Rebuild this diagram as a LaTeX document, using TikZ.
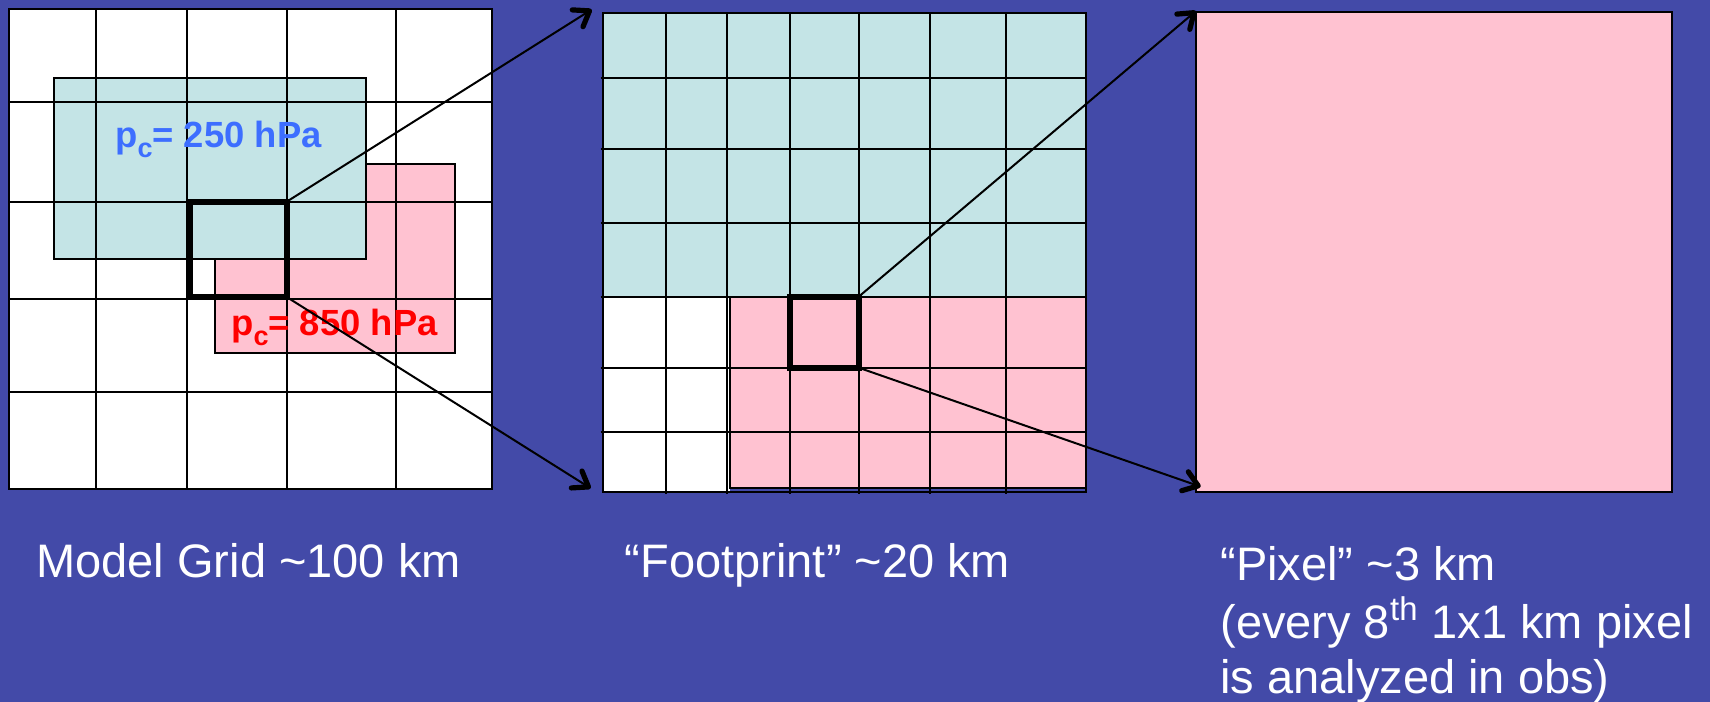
\documentclass[tikz,border=0pt]{standalone}
\usepackage{fontspec}
\setmainfont{Liberation Sans}
\usetikzlibrary{arrows.meta}
\definecolor{bgblue}{RGB}{67,74,168}
\definecolor{cyanfill}{RGB}{196,228,230}
\definecolor{pinkfill}{RGB}{255,194,209}
\definecolor{pcblue}{RGB}{61,110,255}
\definecolor{pcred}{RGB}{255,0,0}
\newcommand\pcsub{\raisebox{-0.28em}{\fontsize{13.5pt}{15pt}\selectfont c}}
\begin{document}
\begin{tikzpicture}[x=0.5pt,y=-0.5pt,
  gridline/.style={draw=black,line width=1pt},
  cyanbox/.style={fill=cyanfill,draw=black,line width=1pt},
  pinkbox/.style={fill=pinkfill,draw=black,line width=1pt},
  boldsq/.style={draw=black,line width=3pt,inner sep=0pt,outer sep=0pt},
  zoomarrow/.style={draw=black,line width=1pt,-{Straight Barb[length=7pt,width=10pt,line width=2.6pt,round]}},
  bigtext/.style={font=\fontsize{23.5pt}{28.2pt}\selectfont,text=white,inner sep=0pt,anchor=base west},
  pclabel/.style={font=\fontsize{18.2pt}{22pt}\selectfont\bfseries,inner sep=0pt,anchor=base west}]
\useasboundingbox (0,0) rectangle (1710,702);
\fill[bgblue] (0,0) rectangle (1710,702);

% ---------- Model grid ----------
\fill[white] (9.3,9.3) rectangle (492,489);
\draw[pinkbox] (215.3,164) rectangle (455.3,353.3);
\draw[cyanbox] (54.3,78) rectangle (365.7,258.7);
\foreach \x in {96.3,186.7,286.7,396.3}
  \draw[gridline] (\x,9.3) -- (\x,489);
\foreach \y in {101.7,201.7,299.3,392.3}
  \draw[gridline] (9.3,\y) -- (492,\y);
\draw[gridline] (9.3,9.3) rectangle (492,489);
\node[pclabel,text=pcblue] (lab250) at (115,147) {p\pcsub= 250 hPa};
\node[pclabel,text=pcred] (lab850) at (231,335) {p\pcsub= 850 hPa};
\node[boldsq,minimum width=48.35pt,minimum height=47.65pt] (sq1) at (238.35,249.35) {};

% ---------- Footprint ----------
\fill[cyanfill] (602.7,12.7) rectangle (1086,296.7);
\fill[white] (602.7,296.7) rectangle (730,491.7);
\draw[pinkbox] (730,296.7) rectangle (1086,488.3);
\foreach \x in {666,726.7,790,858.7,929.7,1006}
  \draw[gridline] (\x,12.7) -- (\x,494);
\foreach \y in {78,149,222.7,296.7,367.7,431.7}
  \draw[gridline] (600.7,\y) -- (1086,\y);
\draw[gridline] (602.7,12.7) rectangle (1086,491.7);
\node[boldsq,minimum width=34.35pt,minimum height=35.5pt] (sq2) at (824.35,332.2) {};

% ---------- Pixel ----------
\node[pinkbox,inner sep=0pt,outer sep=0pt,minimum width=238.15pt,minimum height=239.85pt] (pix) at (1433.85,251.85) {};

% ---------- Arrows ----------
\coordinate (fpin1) at (591.7,9.5);
\coordinate (fpin2) at (590.7,488.3);
\coordinate (pxin1) at (1196,11);
\coordinate (pxin2) at (1200.7,486.7);
\draw[zoomarrow] (sq1.north east) -- (fpin1);
\draw[zoomarrow] (sq1.south east) -- (fpin2);
\draw[zoomarrow] (sq2.north east) -- (pxin1);
\draw[zoomarrow] (sq2.south east) -- (pxin2);

% ---------- Captions ----------
\node[bigtext] (capmodel) at (36,577.5) {Model Grid \textasciitilde100 km};
\node[bigtext] (capfoot) at (624.5,577.5) {“Footprint” \textasciitilde20 km};
\node[bigtext] (cappix1) at (1220,580) {“Pixel” \textasciitilde3 km};
\node[bigtext] (cappix2) at (1220,638.3) {(every 8\textsuperscript{th} 1x1 km pixel};
\node[bigtext] (cappix3) at (1220,693.3) {is analyzed in obs)};
\end{tikzpicture}
\end{document}
